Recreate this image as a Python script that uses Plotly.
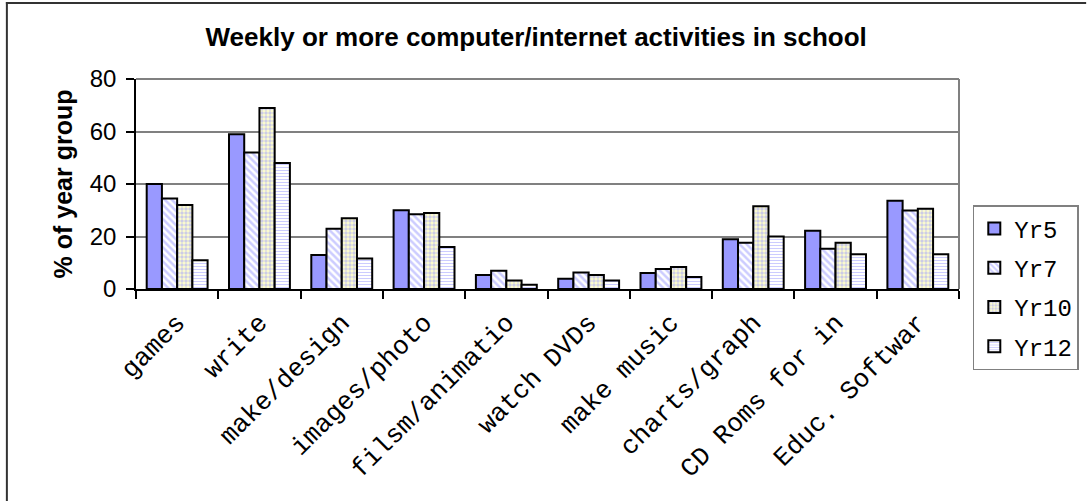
import plotly.graph_objects as go

# Survey categories (labels as they appear on the axis)
categories = ["games", "write", "make/design", "images/photo", "filsm/animatio",
              "watch DVDs", "make music", "charts/graph", "CD Roms for in", "Educ. Softwar"]

yr5 = [40, 59, 13, 30, 5.3, 3.9, 6.1, 19, 22.2, 33.6]
yr7 = [34.5, 52, 23, 28.5, 7.0, 6.3, 7.6, 17.6, 15.3, 29.9]
yr10 = [32, 69, 27, 29, 3.2, 5.3, 8.4, 31.5, 17.6, 30.6]
yr12 = [11, 48, 11.6, 16, 1.6, 3.2, 4.6, 20, 13.2, 13.2]

W, H = 1091, 501
ML, MR, MT, MB = 136, 120, 79, 212
PW, PH = W - ML - MR, H - MT - MB

def px_x(x):
    return (x - ML) / PW

def px_y(y):
    return (H - MB - y) / PH

BLUE = "#9999FF"

fig = go.Figure()

series = [
    ("Yr5", yr5, dict(color=BLUE)),
    ("Yr7", yr7, dict(color="white", pattern=dict(shape="\\", fgcolor=BLUE, bgcolor="white",
                                                  size=5, solidity=0.5, fillmode="overlay"))),
    ("Yr10", yr10, dict(color="#FFFFCC", pattern=dict(shape=".", fgcolor=BLUE, bgcolor="#FFFFCC",
                                                      size=4, solidity=0.6, fillmode="overlay"))),
    ("Yr12", yr12, dict(color="white", pattern=dict(shape="-", fgcolor=BLUE, bgcolor="white",
                                                    size=3, solidity=0.35, fillmode="overlay"))),
]
for name, vals, mk in series:
    mk = dict(mk)
    mk["line"] = dict(color="black", width=2)
    fig.add_trace(go.Bar(name=name, x=categories, y=vals, marker=mk, legendgroup=name))

# plot frame (top/right) and outer chart border
shapes = [
    dict(type="line", xref="paper", yref="paper", x0=0, x1=1, y0=1, y1=1,
         line=dict(color="#808080", width=2)),
    dict(type="line", xref="paper", yref="paper", x0=1, x1=1, y0=0, y1=1,
         line=dict(color="#808080", width=2)),
    dict(type="line", xref="paper", yref="paper", x0=px_x(5), x1=px_x(5), y0=px_y(2), y1=px_y(520),
         line=dict(color="#333333", width=2)),
    dict(type="line", xref="paper", yref="paper", x0=px_x(4), x1=px_x(1100), y0=px_y(3), y1=px_y(3),
         line=dict(color="#333333", width=2)),
]

fig.update_layout(
    width=W, height=H,
    margin=dict(l=ML, r=MR, t=MT, b=MB, pad=0),
    paper_bgcolor="white", plot_bgcolor="white",
    barmode="group", bargap=0.26, bargroupgap=0,
    title=dict(text="<b>Weekly or more computer/internet activities in school</b>",
               font=dict(family="Liberation Sans, Arial", size=26, color="black"),
               x=px_x(542), xref="paper", xanchor="center", y=1 - 37 / H, yanchor="middle"),
    font=dict(family="Liberation Sans, Arial", color="black"),
    legend=dict(x=px_x(985), y=px_y(205), xanchor="left", yanchor="top",
                bordercolor="#808080", borderwidth=1.5, bgcolor="white",
                font=dict(family="Liberation Mono, Courier New", size=24, color="black"),
                tracegroupgap=5, itemsizing="constant", itemwidth=30),
    shapes=shapes,
    xaxis=dict(type="category", tickangle=-45, tickson="boundaries",
               ticks="outside", ticklen=8, tickcolor="black", tickwidth=1.5,
               ticklabelstandoff=6,
               showline=True, linecolor="black", linewidth=1.5,
               tickfont=dict(family="Liberation Mono, Courier New", size=26, color="black"),
               showgrid=False),
    yaxis=dict(range=[0, 80], tickvals=[0, 20, 40, 60, 80], ticks="outside", ticklen=8,
               tickcolor="black", tickwidth=1.5, showline=True, linecolor="black", linewidth=1.5,
               ticklabelstandoff=5,
               showgrid=True, gridcolor="#808080", gridwidth=1.5, zeroline=False,
               tickfont=dict(family="Liberation Sans, Arial", size=24, color="black"),
               title=dict(text="<b>% of year group</b>", standoff=10,
                          font=dict(family="Liberation Sans, Arial", size=25, color="black"))),
)

fig.write_html("out.html")
